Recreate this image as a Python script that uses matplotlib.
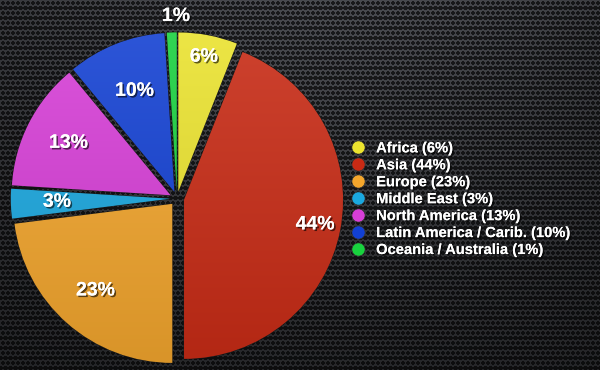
import numpy as np
import matplotlib
matplotlib.use("Agg")
import matplotlib.pyplot as plt
import matplotlib.patheffects as pe
from matplotlib.lines import Line2D
from matplotlib.colors import to_rgb

# ---------------------------- data ----------------------------
regions = ["Africa", "Asia", "Europe", "Middle East", "North America",
           "Latin America / Carib.", "Oceania / Australia"]
shares = [6, 44, 23, 3, 13, 10, 1]
colors = ["#ece42e", "#c92a14", "#f4a62c", "#1aa8e0", "#d83ed8", "#1240d4", "#18d23e"]
label_r = [0.86, 0.84, 0.73, 0.71, 0.72, 0.68, 1.10]   # where each % label sits

W, H = 600, 370
fig = plt.figure(figsize=(W / 100, H / 100), dpi=100)

# ---------------------- carbon background ----------------------
bg = fig.add_axes([0, 0, 1, 1])
yy, xx = np.mgrid[0:H, 0:W]
shift = (yy // 5) % 2 * 2.5
hole = ((xx + shift) % 5 - 2.5) ** 2 + (yy % 5 - 2.5) ** 2 < 4.5
glow = np.exp(-(((xx - 330) / 450.0) ** 2 + ((yy + 60) / 340.0) ** 2))
mesh = 0.12 + 0.18 * glow
img = np.where(hole, mesh * 0.35, mesh)
rgb = np.dstack([img * 0.97, img * 0.99, img * 1.06]).clip(0, 1)
bg.imshow(rgb, origin="upper", extent=[0, W, 0, H], aspect="auto", interpolation="bilinear")
bg.axis("off")

# ---------------------------- pie ----------------------------
R_px = 159.0
cx, cy = 177, H - 198.5
size = 360
ax = fig.add_axes([(cx - size / 2) / W, (cy - size / 2) / H, size / W, size / H])
lim = size / 2 / R_px

wedges, _ = ax.pie(shares, colors=colors, startangle=90, counterclock=False,
                   explode=[0.045] * len(shares),
                   wedgeprops=dict(edgecolor="#1a1a1a", linewidth=0.8))

grad = np.linspace(1, 0, 200)[:, None]
for w, c in zip(wedges, colors):
    base = np.array(to_rgb(c))
    top = base + (1 - base) * 0.12
    bot = base * 0.88
    g = top[None, None, :] * grad[..., None] + bot[None, None, :] * (1 - grad[..., None])
    g = np.repeat(g, 2, axis=1)
    im = ax.imshow(g, extent=[-1.2, 1.2, -1.2, 1.2], origin="upper",
                   aspect="auto", zorder=w.get_zorder() + 0.1, interpolation="bilinear")
    im.set_clip_path(w)

shadow = [pe.withSimplePatchShadow(offset=(1.2, -1.2), shadow_rgbFace="black", alpha=0.6),
          pe.Normal()]
for w, v, r in zip(wedges, shares, label_r):
    ang = np.deg2rad((w.theta1 + w.theta2) / 2)
    x0, y0 = w.center
    ax.text(x0 + r * np.cos(ang) + (0.03 if v == 1 else 0), y0 + r * np.sin(ang), f"{v}%",
            ha="center", va="center", color="white", fontsize=14,
            fontweight="bold", family="Liberation Sans", zorder=10,
            path_effects=shadow)

ax.set_xlim(-lim, lim)
ax.set_ylim(-lim, lim)
ax.set_aspect("equal")
ax.axis("off")

# ---------------------------- legend ----------------------------
handles = [Line2D([], [], marker="o", linestyle="none", markersize=9.5,
                  markerfacecolor=c, markeredgecolor="#333333", markeredgewidth=0.5)
           for c in colors]
labels = [f"{r} ({s}%)" for r, s in zip(regions, shares)]
leg = fig.legend(handles, labels, loc="upper left", bbox_to_anchor=(343 / W, 1 - 134 / H),
                 frameon=False, borderpad=0, handlelength=1.0, handletextpad=0.75,
                 labelspacing=0.2, prop=dict(family="Liberation Sans", weight="bold", size=10.6))
for t in leg.get_texts():
    t.set_color("white")
    t.set_path_effects(shadow)

fig.savefig("out.png", dpi=100)
